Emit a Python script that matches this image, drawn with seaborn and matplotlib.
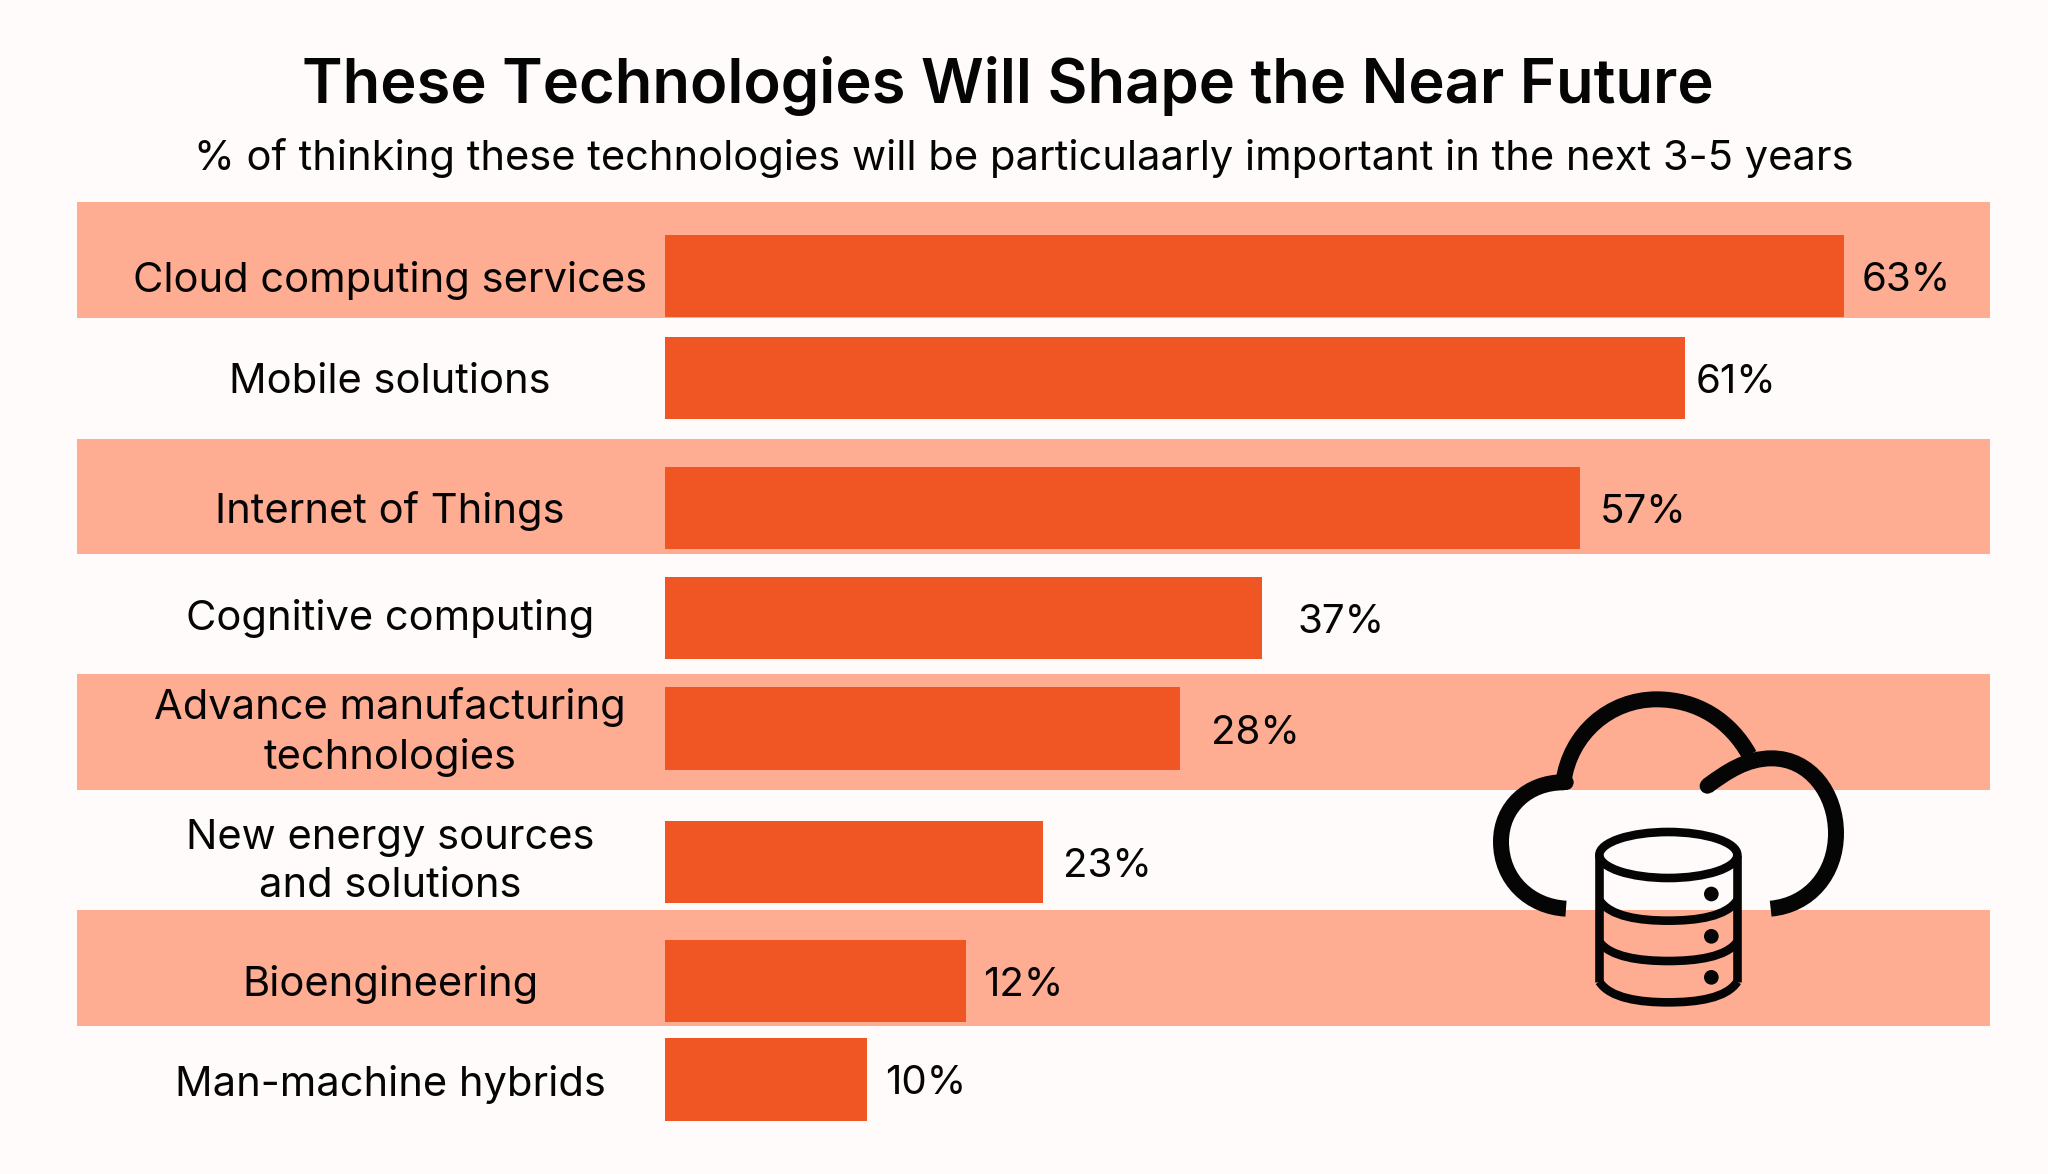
import matplotlib
matplotlib.use("Agg")
import matplotlib.pyplot as plt
import pandas as pd
import seaborn as sns
from matplotlib.patches import Circle, Ellipse, PathPatch
from matplotlib.path import Path

categories = [
    "Cloud computing services",
    "Mobile solutions",
    "Internet of Things",
    "Cognitive computing",
    "Advance manufacturing\ntechnologies",
    "New energy sources\nand solutions",
    "Bioengineering",
    "Man-machine hybrids",
]
value_labels = ["63%", "61%", "57%", "37%", "28%", "23%", "12%", "10%"]
# drawn bar lengths, they do not follow the printed labels
bar_lengths = [63.0, 54.5, 48.9, 31.9, 27.5, 20.2, 16.1, 10.8]

TITLE = "These Technologies Will Shape the Near Future"
SUBTITLE = "% of thinking these technologies will be particulaarly important in the next 3-5 years"

# layout, in pixels of the 2048x1174 canvas
W, H = 2048, 1174
BAR_LEFT = 665
PX_PER_UNIT = 18.714
row_centers = [276, 378, 508, 618, 728.5, 861.7, 981, 1079.5]
label_centers = [280, 382, 511, 619, 732, 862, 985, 1084]
label_gaps = [18, 11, 20, 36, 31, 20, 17, 18]
band_spans = [(202, 317.5), (438.5, 553.7), (674, 790), (910, 1025.7)]

BG = "#FEFBFA"
BAND = "#FFAD92"
BAR = "#F05524"
INK = "#050505"

sns.set_theme(style="white")
plt.rcParams["font.family"] = ["Inter", "DejaVu Sans"]

fig = plt.figure(figsize=(W / 100, H / 100), dpi=100, facecolor=BG)

# canvas in pixels: bands, titles, category labels
canvas = fig.add_axes([0, 0, 1, 1], zorder=0, facecolor=BG)
canvas.set_xlim(0, W)
canvas.set_ylim(H, 0)
canvas.axis("off")
for top, bottom in band_spans:
    canvas.fill_between([77, 1990], top, bottom, color=BAND, lw=0)
canvas.text(1008, 86, TITLE, ha="center", va="center", fontsize=44.3, fontweight="semibold", color=INK)
canvas.text(1024, 158, SUBTITLE, ha="center", va="center", fontsize=30, color=INK)
for name, yc in zip(categories, label_centers):
    canvas.text(390, yc, name, ha="center", va="center", fontsize=30, color=INK, linespacing=1.36)

# bars
df = pd.DataFrame({"row": row_centers, "length": bar_lengths})
ax = fig.add_axes([0, 0, 1, 1], zorder=1)
ax.patch.set_alpha(0)
sns.barplot(
    data=df, x="length", y="row", orient="h", native_scale=True,
    width=0.8325, color=BAR, saturation=1, linewidth=0, ax=ax,
)
ax.set_xlim(-BAR_LEFT / PX_PER_UNIT, (W - BAR_LEFT) / PX_PER_UNIT)
ax.set_ylim(H, 0)
ax.axis("off")
for length, yc, label, gap in zip(bar_lengths, row_centers, value_labels, label_gaps):
    ax.annotate(
        label, (length, yc + 4.5), xytext=(gap * 0.72, 0), textcoords="offset points",
        ha="left", va="center", fontsize=29, color=INK,
    )

# cloud + database icon, units are 1/3 pixel
icon = fig.add_axes([1450 / W, 1 - (670 + 360) / H, 420 / W, 360 / H], zorder=2)
icon.set_xlim(0, 1260)
icon.set_ylim(1080, 0)
icon.axis("off")

C = Path.CURVE4
left_cloud = Path(
    [(348, 716), (240, 710), (153, 630), (153, 515), (153, 410), (235, 337), (340, 337),
     (360, 190), (480, 88), (620, 88), (740, 88), (840, 150), (898, 255)],
    [Path.MOVETO] + [C] * 12,
)
right_cloud = Path(
    [(772, 348), (830, 305), (890, 265), (965, 265), (1080, 265), (1158, 370), (1158, 490),
     (1158, 610), (1080, 705), (962, 716)],
    [Path.MOVETO] + [C] * 9,
)
for p in (left_cloud, right_cloud):
    icon.add_patch(PathPatch(p, fc="none", ec=INK, lw=11.5, capstyle="butt", joinstyle="round"))
for xy in [(772, 348), (348, 337)]:
    icon.add_patch(Circle(xy, 23, fc=INK, ec="none"))

# database
icon.add_patch(Ellipse((655, 555), 414, 138, fc="none", ec=INK, lw=6.2))
for x in (448, 862):
    icon.plot([x, x], [555, 935], color=INK, lw=6.2, solid_capstyle="butt")
for y0, y1 in [(690, 752), (815, 873), (935, 997)]:
    icon.add_patch(PathPatch(
        Path([(448, y0), (480, y1 - 12), (570, y1), (655, y1), (740, y1), (830, y1 - 12), (862, y0)],
             [Path.MOVETO] + [C] * 6),
        fc="none", ec=INK, lw=6.2,
    ))
for y in (672, 799, 922):
    icon.add_patch(Circle((784, y), 22, fc=INK, ec="none"))

fig.savefig("out.png", dpi=100, facecolor=BG)
